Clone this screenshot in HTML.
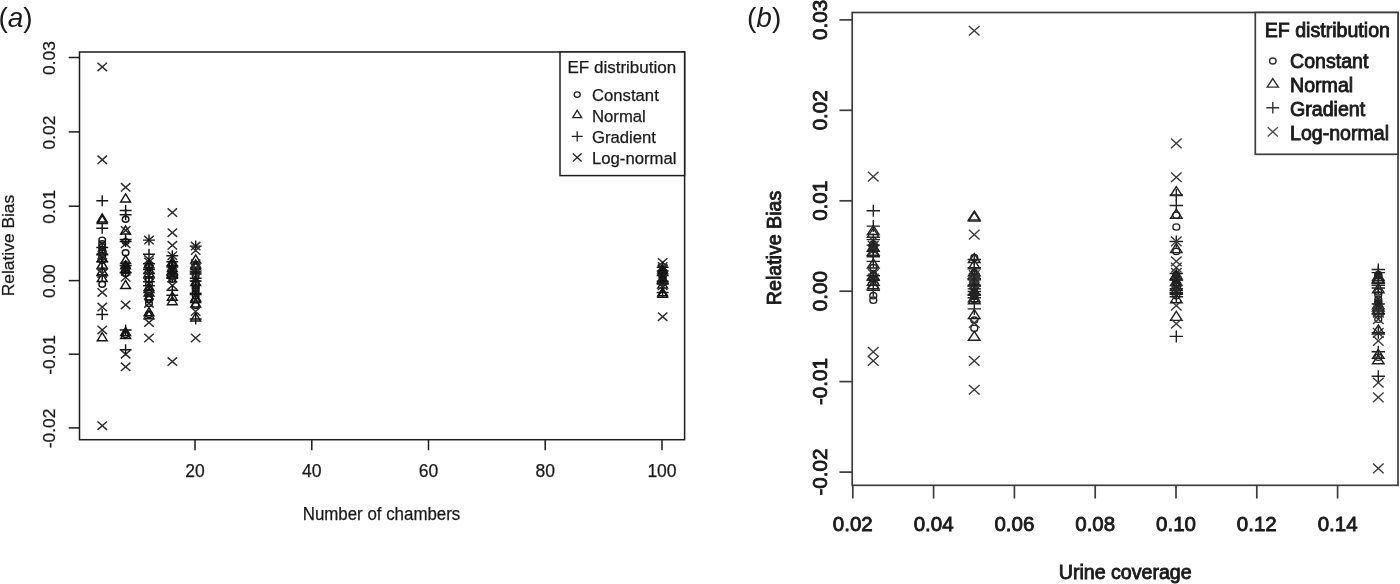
<!DOCTYPE html>
<html lang="en"><head><meta charset="utf-8"><title>Relative bias figure</title>
<style>html,body{margin:0;padding:0;background:#fff}body{width:1400px;height:584px;overflow:hidden}</style></head>
<body>
<svg width="1400" height="584" viewBox="0 0 1400 584" style="display:block;filter:blur(0.55px)">
<rect width="1400" height="584" fill="#fff"/>
<g font-family="Liberation Sans, sans-serif" fill="#1a1a1a">
<text x="-1.6" y="27.2" font-size="28"><tspan>(</tspan><tspan font-style="italic">a</tspan><tspan>)</tspan></text>
<text x="747" y="27" font-size="28"><tspan>(</tspan><tspan font-style="italic">b</tspan><tspan>)</tspan></text>
</g>
<g fill="none" stroke="#1c1c1c" stroke-width="1.5">
<rect x="79.5" y="52.0" width="605.1" height="387.7"/>
<path d="M195.0 439.7V450.2"/>
<path d="M311.8 439.7V450.2"/>
<path d="M428.5 439.7V450.2"/>
<path d="M545.2 439.7V450.2"/>
<path d="M662.0 439.7V450.2"/>
<path d="M79.5 57.5H68.7"/>
<path d="M79.5 131.9H68.7"/>
<path d="M79.5 206.2H68.7"/>
<path d="M79.5 280.6H68.7"/>
<path d="M79.5 354.2H68.7"/>
<path d="M79.5 427.9H68.7"/>
<rect x="560" y="52.0" width="124.6" height="123.6" fill="#fff"/>
</g>
<g font-family="Liberation Sans, sans-serif" font-size="17.0" fill="#1a1a1a" stroke="#1a1a1a" stroke-width="0.25" text-anchor="middle">
<text x="195.0" y="477.4" font-size="17.5">20</text>
<text x="311.8" y="477.4" font-size="17.5">40</text>
<text x="428.5" y="477.4" font-size="17.5">60</text>
<text x="545.2" y="477.4" font-size="17.5">80</text>
<text x="662.0" y="477.4" font-size="17.5">100</text>
<text transform="translate(55.3 58.1) rotate(-90)" font-size="17.4">0.03</text>
<text transform="translate(55.3 132.5) rotate(-90)" font-size="17.4">0.02</text>
<text transform="translate(55.3 206.8) rotate(-90)" font-size="17.4">0.01</text>
<text transform="translate(55.3 281.2) rotate(-90)" font-size="17.4">0.00</text>
<text transform="translate(55.3 354.9) rotate(-90)" font-size="17.4">-0.01</text>
<text transform="translate(55.3 428.5) rotate(-90)" font-size="17.4">-0.02</text>
<text x="381.5" y="519.5" textLength="157.5" lengthAdjust="spacingAndGlyphs" font-size="17.6">Number of chambers</text>
<text transform="translate(14.3 245.5) rotate(-90)" font-size="17.4">Relative Bias</text>
</g>
<g font-family="Liberation Sans, sans-serif" font-size="17.0" fill="#1a1a1a" stroke="#1a1a1a" stroke-width="0.25">
<text x="567.5" y="72.9">EF distribution</text>
<text x="592" y="101.1" font-size="16.7">Constant</text>
<ellipse cx="577.2" cy="94.6" rx="3.04" ry="2.76" fill="none" stroke="#222" stroke-width="1.3"/>
<text x="592" y="122.0" font-size="16.7">Normal</text>
<path d="M577.2 110.3L581.7 117.7L572.7 117.7Z" fill="none" stroke="#222" stroke-width="1.3"/>
<text x="592" y="142.9" font-size="16.7">Gradient</text>
<path d="M571.7 136.3H582.7M577.2 131.2V141.4" fill="none" stroke="#222" stroke-width="1.3"/>
<text x="592" y="163.8" font-size="16.7">Log-normal</text>
<path d="M572.8 153.6L581.6 161.4M572.8 161.4L581.6 153.6" fill="none" stroke="#222" stroke-width="1.3"/>
</g>
<g>
<path d="M97.5 62.7L107.0 71.1M97.5 71.1L107.0 62.7" fill="none" stroke="#2c2c2c" stroke-width="1.45"/>
<path d="M97.5 155.6L107.0 164.0M97.5 164.0L107.0 155.6" fill="none" stroke="#2c2c2c" stroke-width="1.45"/>
<path d="M96.3 200.7H108.2M102.2 195.2V206.2" fill="none" stroke="#151515" stroke-width="1.45"/>
<path d="M102.2 213.9L107.2 222.0L97.3 222.0Z" fill="none" stroke="#151515" stroke-width="1.45"/>
<path d="M102.2 215.4L107.2 223.5L97.3 223.5Z" fill="none" stroke="#151515" stroke-width="1.45"/>
<path d="M96.3 228.2H108.2M102.2 222.7V233.7" fill="none" stroke="#151515" stroke-width="1.45"/>
<path d="M97.5 288.2L107.0 296.6M97.5 296.6L107.0 288.2" fill="none" stroke="#2c2c2c" stroke-width="1.45"/>
<path d="M97.5 302.9L107.0 311.3M97.5 311.3L107.0 302.9" fill="none" stroke="#2c2c2c" stroke-width="1.45"/>
<path d="M96.3 314.5H108.2M102.2 309.0V320.0" fill="none" stroke="#151515" stroke-width="1.45"/>
<path d="M97.5 325.7L107.0 334.1M97.5 334.1L107.0 325.7" fill="none" stroke="#2c2c2c" stroke-width="1.45"/>
<path d="M102.2 332.7L107.2 340.7L97.3 340.7Z" fill="none" stroke="#151515" stroke-width="1.45"/>
<path d="M97.5 421.5L107.0 429.9M97.5 429.9L107.0 421.5" fill="none" stroke="#2c2c2c" stroke-width="1.45"/>
<ellipse cx="102.2" cy="240.1" rx="3.30" ry="3.00" fill="none" stroke="#151515" stroke-width="1.45"/>
<ellipse cx="102.2" cy="243.8" rx="3.30" ry="3.00" fill="none" stroke="#151515" stroke-width="1.45"/>
<ellipse cx="102.2" cy="246.8" rx="3.30" ry="3.00" fill="none" stroke="#151515" stroke-width="1.45"/>
<ellipse cx="102.2" cy="249.8" rx="3.30" ry="3.00" fill="none" stroke="#151515" stroke-width="1.45"/>
<ellipse cx="102.2" cy="252.7" rx="3.30" ry="3.00" fill="none" stroke="#151515" stroke-width="1.45"/>
<ellipse cx="102.2" cy="256.5" rx="3.30" ry="3.00" fill="none" stroke="#151515" stroke-width="1.45"/>
<ellipse cx="102.2" cy="260.2" rx="3.30" ry="3.00" fill="none" stroke="#151515" stroke-width="1.45"/>
<ellipse cx="102.2" cy="284.3" rx="3.30" ry="3.00" fill="none" stroke="#151515" stroke-width="1.45"/>
<path d="M102.2 246.7L107.2 254.7L97.3 254.7Z" fill="none" stroke="#151515" stroke-width="1.45"/>
<path d="M102.2 253.3L107.2 261.4L97.3 261.4Z" fill="none" stroke="#151515" stroke-width="1.45"/>
<path d="M102.2 260.0L107.2 268.1L97.3 268.1Z" fill="none" stroke="#151515" stroke-width="1.45"/>
<path d="M102.2 266.7L107.2 274.8L97.3 274.8Z" fill="none" stroke="#151515" stroke-width="1.45"/>
<path d="M102.2 273.4L107.2 281.5L97.3 281.5Z" fill="none" stroke="#151515" stroke-width="1.45"/>
<path d="M96.3 247.5H108.2M102.2 242.0V253.0" fill="none" stroke="#151515" stroke-width="1.45"/>
<path d="M96.3 254.2H108.2M102.2 248.7V259.7" fill="none" stroke="#151515" stroke-width="1.45"/>
<path d="M96.3 261.7H108.2M102.2 256.2V267.2" fill="none" stroke="#151515" stroke-width="1.45"/>
<path d="M96.3 269.1H108.2M102.2 263.6V274.6" fill="none" stroke="#151515" stroke-width="1.45"/>
<path d="M96.3 275.8H108.2M102.2 270.3V281.3" fill="none" stroke="#151515" stroke-width="1.45"/>
<path d="M97.5 250.8L107.0 259.2M97.5 259.2L107.0 250.8" fill="none" stroke="#2c2c2c" stroke-width="1.45"/>
<path d="M97.5 269.4L107.0 277.8M97.5 277.8L107.0 269.4" fill="none" stroke="#2c2c2c" stroke-width="1.45"/>
<path d="M120.9 183.1L130.4 191.5M120.9 191.5L130.4 183.1" fill="none" stroke="#2c2c2c" stroke-width="1.45"/>
<path d="M120.9 226.2L130.4 234.6M120.9 234.6L130.4 226.2" fill="none" stroke="#2c2c2c" stroke-width="1.45"/>
<path d="M120.9 239.6L130.4 248.0M120.9 248.0L130.4 239.6" fill="none" stroke="#2c2c2c" stroke-width="1.45"/>
<path d="M120.9 273.1L130.4 281.5M120.9 281.5L130.4 273.1" fill="none" stroke="#2c2c2c" stroke-width="1.45"/>
<path d="M120.9 300.7L130.4 309.1M120.9 309.1L130.4 300.7" fill="none" stroke="#2c2c2c" stroke-width="1.45"/>
<path d="M120.9 350.1L130.4 358.4M120.9 358.4L130.4 350.1" fill="none" stroke="#2c2c2c" stroke-width="1.45"/>
<path d="M120.9 362.6L130.4 371.0M120.9 371.0L130.4 362.6" fill="none" stroke="#2c2c2c" stroke-width="1.45"/>
<path d="M120.9 267.1L130.4 275.5M120.9 275.5L130.4 267.1" fill="none" stroke="#2c2c2c" stroke-width="1.45"/>
<path d="M125.6 193.9L130.5 201.9L120.7 201.9Z" fill="none" stroke="#151515" stroke-width="1.45"/>
<path d="M125.6 225.8L130.5 233.9L120.7 233.9Z" fill="none" stroke="#151515" stroke-width="1.45"/>
<path d="M125.6 255.6L130.5 263.6L120.7 263.6Z" fill="none" stroke="#151515" stroke-width="1.45"/>
<path d="M125.6 280.4L130.5 288.5L120.7 288.5Z" fill="none" stroke="#151515" stroke-width="1.45"/>
<path d="M125.6 327.5L130.5 335.6L120.7 335.6Z" fill="none" stroke="#151515" stroke-width="1.45"/>
<path d="M125.6 330.5L130.5 338.5L120.7 338.5Z" fill="none" stroke="#151515" stroke-width="1.45"/>
<path d="M125.6 264.5L130.5 272.5L120.7 272.5Z" fill="none" stroke="#151515" stroke-width="1.45"/>
<path d="M125.6 260.8L130.5 268.8L120.7 268.8Z" fill="none" stroke="#151515" stroke-width="1.45"/>
<path d="M119.7 210.4H131.6M125.6 204.9V215.9" fill="none" stroke="#151515" stroke-width="1.45"/>
<path d="M119.7 214.8H131.6M125.6 209.3V220.3" fill="none" stroke="#151515" stroke-width="1.45"/>
<path d="M119.7 239.4H131.6M125.6 233.9V244.9" fill="none" stroke="#151515" stroke-width="1.45"/>
<path d="M119.7 241.6H131.6M125.6 236.1V247.1" fill="none" stroke="#151515" stroke-width="1.45"/>
<path d="M119.7 265.8H131.6M125.6 260.3V271.3" fill="none" stroke="#151515" stroke-width="1.45"/>
<path d="M119.7 272.5H131.6M125.6 267.0V278.0" fill="none" stroke="#151515" stroke-width="1.45"/>
<path d="M119.7 329.9H131.6M125.6 324.4V335.4" fill="none" stroke="#151515" stroke-width="1.45"/>
<path d="M119.7 349.8H131.6M125.6 344.3V355.3" fill="none" stroke="#151515" stroke-width="1.45"/>
<ellipse cx="125.6" cy="219.3" rx="3.30" ry="3.00" fill="none" stroke="#151515" stroke-width="1.45"/>
<ellipse cx="125.6" cy="241.6" rx="3.30" ry="3.00" fill="none" stroke="#151515" stroke-width="1.45"/>
<ellipse cx="125.6" cy="252.7" rx="3.30" ry="3.00" fill="none" stroke="#151515" stroke-width="1.45"/>
<ellipse cx="125.6" cy="334.4" rx="3.30" ry="3.00" fill="none" stroke="#151515" stroke-width="1.45"/>
<ellipse cx="125.6" cy="264.6" rx="3.30" ry="3.00" fill="none" stroke="#151515" stroke-width="1.45"/>
<ellipse cx="125.6" cy="267.6" rx="3.30" ry="3.00" fill="none" stroke="#151515" stroke-width="1.45"/>
<ellipse cx="125.6" cy="270.6" rx="3.30" ry="3.00" fill="none" stroke="#151515" stroke-width="1.45"/>
<ellipse cx="125.6" cy="273.6" rx="3.30" ry="3.00" fill="none" stroke="#151515" stroke-width="1.45"/>
<path d="M144.2 235.9L153.7 244.3M144.2 244.3L153.7 235.9" fill="none" stroke="#2c2c2c" stroke-width="1.45"/>
<path d="M143.0 240.1H154.9M149.0 234.6V245.6" fill="none" stroke="#151515" stroke-width="1.45"/>
<path d="M143.0 254.2H154.9M149.0 248.7V259.7" fill="none" stroke="#151515" stroke-width="1.45"/>
<path d="M144.2 299.2L153.7 307.6M144.2 307.6L153.7 299.2" fill="none" stroke="#2c2c2c" stroke-width="1.45"/>
<ellipse cx="149.0" cy="303.4" rx="3.30" ry="3.00" fill="none" stroke="#151515" stroke-width="1.45"/>
<path d="M149.0 307.7L153.9 315.7L144.1 315.7Z" fill="none" stroke="#151515" stroke-width="1.45"/>
<path d="M149.0 310.6L153.9 318.7L144.1 318.7Z" fill="none" stroke="#151515" stroke-width="1.45"/>
<ellipse cx="149.0" cy="314.5" rx="3.30" ry="3.00" fill="none" stroke="#151515" stroke-width="1.45"/>
<path d="M144.2 318.4L153.7 326.8M144.2 326.8L153.7 318.4" fill="none" stroke="#2c2c2c" stroke-width="1.45"/>
<path d="M144.2 333.8L153.7 342.2M144.2 342.2L153.7 333.8" fill="none" stroke="#2c2c2c" stroke-width="1.45"/>
<path d="M144.2 255.4L153.7 263.8M144.2 263.8L153.7 255.4" fill="none" stroke="#2c2c2c" stroke-width="1.45"/>
<path d="M144.2 257.8L153.7 266.2M144.2 266.2L153.7 257.8" fill="none" stroke="#2c2c2c" stroke-width="1.45"/>
<path d="M143.0 263.8H154.9M149.0 258.3V269.3" fill="none" stroke="#151515" stroke-width="1.45"/>
<path d="M149.0 259.7L153.9 267.7L144.1 267.7Z" fill="none" stroke="#151515" stroke-width="1.45"/>
<ellipse cx="149.0" cy="267.6" rx="3.30" ry="3.00" fill="none" stroke="#151515" stroke-width="1.45"/>
<path d="M143.0 269.4H154.9M149.0 263.9V274.9" fill="none" stroke="#151515" stroke-width="1.45"/>
<path d="M149.0 265.3L153.9 273.4L144.1 273.4Z" fill="none" stroke="#151515" stroke-width="1.45"/>
<path d="M143.0 273.1H154.9M149.0 267.6V278.6" fill="none" stroke="#151515" stroke-width="1.45"/>
<path d="M149.0 268.7L153.9 276.8L144.1 276.8Z" fill="none" stroke="#151515" stroke-width="1.45"/>
<path d="M144.2 271.7L153.7 280.1M144.2 280.1L153.7 271.7" fill="none" stroke="#2c2c2c" stroke-width="1.45"/>
<path d="M143.0 277.9H154.9M149.0 272.4V283.4" fill="none" stroke="#151515" stroke-width="1.45"/>
<ellipse cx="149.0" cy="279.6" rx="3.30" ry="3.00" fill="none" stroke="#151515" stroke-width="1.45"/>
<path d="M143.0 281.8H154.9M149.0 276.3V287.3" fill="none" stroke="#151515" stroke-width="1.45"/>
<ellipse cx="149.0" cy="284.1" rx="3.30" ry="3.00" fill="none" stroke="#151515" stroke-width="1.45"/>
<path d="M143.0 285.8H154.9M149.0 280.3V291.3" fill="none" stroke="#151515" stroke-width="1.45"/>
<path d="M149.0 282.4L153.9 290.5L144.1 290.5Z" fill="none" stroke="#151515" stroke-width="1.45"/>
<path d="M149.0 284.3L153.9 292.4L144.1 292.4Z" fill="none" stroke="#151515" stroke-width="1.45"/>
<ellipse cx="149.0" cy="292.1" rx="3.30" ry="3.00" fill="none" stroke="#151515" stroke-width="1.45"/>
<path d="M149.0 287.9L153.9 295.9L144.1 295.9Z" fill="none" stroke="#151515" stroke-width="1.45"/>
<path d="M144.2 290.8L153.7 299.2M144.2 299.2L153.7 290.8" fill="none" stroke="#2c2c2c" stroke-width="1.45"/>
<ellipse cx="149.0" cy="297.0" rx="3.30" ry="3.00" fill="none" stroke="#151515" stroke-width="1.45"/>
<ellipse cx="149.0" cy="299.4" rx="3.30" ry="3.00" fill="none" stroke="#151515" stroke-width="1.45"/>
<path d="M167.6 208.4L177.1 216.8M167.6 216.8L177.1 208.4" fill="none" stroke="#2c2c2c" stroke-width="1.45"/>
<path d="M167.6 228.5L177.1 236.9M167.6 236.9L177.1 228.5" fill="none" stroke="#2c2c2c" stroke-width="1.45"/>
<path d="M167.6 241.1L177.1 249.5M167.6 249.5L177.1 241.1" fill="none" stroke="#2c2c2c" stroke-width="1.45"/>
<path d="M167.6 251.5L177.1 259.9M167.6 259.9L177.1 251.5" fill="none" stroke="#2c2c2c" stroke-width="1.45"/>
<path d="M166.4 255.7H178.2M172.3 250.2V261.2" fill="none" stroke="#151515" stroke-width="1.45"/>
<path d="M166.4 261.7H178.2M172.3 256.2V267.2" fill="none" stroke="#151515" stroke-width="1.45"/>
<path d="M167.6 281.2L177.1 289.6M167.6 289.6L177.1 281.2" fill="none" stroke="#2c2c2c" stroke-width="1.45"/>
<path d="M166.4 290.2H178.2M172.3 284.7V295.7" fill="none" stroke="#151515" stroke-width="1.45"/>
<path d="M166.4 295.3H178.2M172.3 289.8V300.8" fill="none" stroke="#151515" stroke-width="1.45"/>
<path d="M172.3 292.2L177.2 300.2L167.4 300.2Z" fill="none" stroke="#151515" stroke-width="1.45"/>
<path d="M172.3 296.6L177.2 304.7L167.4 304.7Z" fill="none" stroke="#151515" stroke-width="1.45"/>
<path d="M167.6 357.4L177.1 365.8M167.6 365.8L177.1 357.4" fill="none" stroke="#2c2c2c" stroke-width="1.45"/>
<path d="M172.3 257.5L177.2 265.6L167.4 265.6Z" fill="none" stroke="#151515" stroke-width="1.45"/>
<ellipse cx="172.3" cy="263.7" rx="3.30" ry="3.00" fill="none" stroke="#151515" stroke-width="1.45"/>
<ellipse cx="172.3" cy="264.5" rx="3.30" ry="3.00" fill="none" stroke="#151515" stroke-width="1.45"/>
<ellipse cx="172.3" cy="265.6" rx="3.30" ry="3.00" fill="none" stroke="#151515" stroke-width="1.45"/>
<path d="M166.4 266.1H178.2M172.3 260.6V271.6" fill="none" stroke="#151515" stroke-width="1.45"/>
<path d="M166.4 266.9H178.2M172.3 261.4V272.4" fill="none" stroke="#151515" stroke-width="1.45"/>
<ellipse cx="172.3" cy="268.2" rx="3.30" ry="3.00" fill="none" stroke="#151515" stroke-width="1.45"/>
<path d="M172.3 263.4L177.2 271.5L167.4 271.5Z" fill="none" stroke="#151515" stroke-width="1.45"/>
<ellipse cx="172.3" cy="269.4" rx="3.30" ry="3.00" fill="none" stroke="#151515" stroke-width="1.45"/>
<ellipse cx="172.3" cy="270.7" rx="3.30" ry="3.00" fill="none" stroke="#151515" stroke-width="1.45"/>
<path d="M172.3 265.8L177.2 273.9L167.4 273.9Z" fill="none" stroke="#151515" stroke-width="1.45"/>
<path d="M172.3 267.2L177.2 275.2L167.4 275.2Z" fill="none" stroke="#151515" stroke-width="1.45"/>
<path d="M167.6 268.6L177.1 277.0M167.6 277.0L177.1 268.6" fill="none" stroke="#2c2c2c" stroke-width="1.45"/>
<path d="M172.3 268.8L177.2 276.8L167.4 276.8Z" fill="none" stroke="#151515" stroke-width="1.45"/>
<path d="M166.4 275.0H178.2M172.3 269.5V280.5" fill="none" stroke="#151515" stroke-width="1.45"/>
<path d="M172.3 270.2L177.2 278.2L167.4 278.2Z" fill="none" stroke="#151515" stroke-width="1.45"/>
<ellipse cx="172.3" cy="276.6" rx="3.30" ry="3.00" fill="none" stroke="#151515" stroke-width="1.45"/>
<path d="M166.4 277.6H178.2M172.3 272.1V283.1" fill="none" stroke="#151515" stroke-width="1.45"/>
<path d="M167.6 274.0L177.1 282.4M167.6 282.4L177.1 274.0" fill="none" stroke="#2c2c2c" stroke-width="1.45"/>
<ellipse cx="172.3" cy="279.3" rx="3.30" ry="3.00" fill="none" stroke="#151515" stroke-width="1.45"/>
<path d="M190.9 241.9L200.4 250.3M190.9 250.3L200.4 241.9" fill="none" stroke="#2c2c2c" stroke-width="1.45"/>
<path d="M189.7 246.1H201.6M195.7 240.6V251.6" fill="none" stroke="#151515" stroke-width="1.45"/>
<path d="M190.9 246.3L200.4 254.7M190.9 254.7L200.4 246.3" fill="none" stroke="#2c2c2c" stroke-width="1.45"/>
<path d="M195.7 254.8L200.6 262.9L190.8 262.9Z" fill="none" stroke="#151515" stroke-width="1.45"/>
<ellipse cx="195.7" cy="305.6" rx="3.30" ry="3.00" fill="none" stroke="#151515" stroke-width="1.45"/>
<path d="M195.7 298.8L200.6 306.9L190.8 306.9Z" fill="none" stroke="#151515" stroke-width="1.45"/>
<path d="M190.9 307.3L200.4 315.7M190.9 315.7L200.4 307.3" fill="none" stroke="#2c2c2c" stroke-width="1.45"/>
<path d="M189.7 318.9H201.6M195.7 313.4V324.4" fill="none" stroke="#151515" stroke-width="1.45"/>
<path d="M195.7 312.8L200.6 320.9L190.8 320.9Z" fill="none" stroke="#151515" stroke-width="1.45"/>
<path d="M190.9 333.8L200.4 342.2M190.9 342.2L200.4 333.8" fill="none" stroke="#2c2c2c" stroke-width="1.45"/>
<path d="M190.9 259.5L200.4 267.9M190.9 267.9L200.4 259.5" fill="none" stroke="#2c2c2c" stroke-width="1.45"/>
<path d="M195.7 260.0L200.6 268.1L190.8 268.1Z" fill="none" stroke="#151515" stroke-width="1.45"/>
<path d="M195.7 261.7L200.6 269.8L190.8 269.8Z" fill="none" stroke="#151515" stroke-width="1.45"/>
<path d="M190.9 263.9L200.4 272.3M190.9 272.3L200.4 263.9" fill="none" stroke="#2c2c2c" stroke-width="1.45"/>
<path d="M190.9 265.7L200.4 274.1M190.9 274.1L200.4 265.7" fill="none" stroke="#2c2c2c" stroke-width="1.45"/>
<path d="M189.7 272.0H201.6M195.7 266.5V277.5" fill="none" stroke="#151515" stroke-width="1.45"/>
<path d="M189.7 273.9H201.6M195.7 268.4V279.4" fill="none" stroke="#151515" stroke-width="1.45"/>
<ellipse cx="195.7" cy="275.8" rx="3.30" ry="3.00" fill="none" stroke="#151515" stroke-width="1.45"/>
<path d="M190.9 273.3L200.4 281.7M190.9 281.7L200.4 273.3" fill="none" stroke="#2c2c2c" stroke-width="1.45"/>
<path d="M189.7 278.3H201.6M195.7 272.8V283.8" fill="none" stroke="#151515" stroke-width="1.45"/>
<path d="M189.7 281.0H201.6M195.7 275.5V286.5" fill="none" stroke="#151515" stroke-width="1.45"/>
<path d="M195.7 277.4L200.6 285.5L190.8 285.5Z" fill="none" stroke="#151515" stroke-width="1.45"/>
<ellipse cx="195.7" cy="284.3" rx="3.30" ry="3.00" fill="none" stroke="#151515" stroke-width="1.45"/>
<ellipse cx="195.7" cy="285.6" rx="3.30" ry="3.00" fill="none" stroke="#151515" stroke-width="1.45"/>
<ellipse cx="195.7" cy="287.6" rx="3.30" ry="3.00" fill="none" stroke="#151515" stroke-width="1.45"/>
<ellipse cx="195.7" cy="288.9" rx="3.30" ry="3.00" fill="none" stroke="#151515" stroke-width="1.45"/>
<ellipse cx="195.7" cy="291.6" rx="3.30" ry="3.00" fill="none" stroke="#151515" stroke-width="1.45"/>
<path d="M189.7 293.2H201.6M195.7 287.7V298.7" fill="none" stroke="#151515" stroke-width="1.45"/>
<path d="M189.7 294.6H201.6M195.7 289.1V300.1" fill="none" stroke="#151515" stroke-width="1.45"/>
<ellipse cx="195.7" cy="296.0" rx="3.30" ry="3.00" fill="none" stroke="#151515" stroke-width="1.45"/>
<path d="M195.7 293.1L200.6 301.1L190.8 301.1Z" fill="none" stroke="#151515" stroke-width="1.45"/>
<path d="M195.7 294.4L200.6 302.4L190.8 302.4Z" fill="none" stroke="#151515" stroke-width="1.45"/>
<path d="M657.9 258.2L667.4 266.6M657.9 266.6L667.4 258.2" fill="none" stroke="#2c2c2c" stroke-width="1.45"/>
<path d="M656.7 292.4H668.6M662.6 286.9V297.9" fill="none" stroke="#151515" stroke-width="1.45"/>
<path d="M662.6 289.2L667.5 297.3L657.8 297.3Z" fill="none" stroke="#151515" stroke-width="1.45"/>
<path d="M662.6 287.8L667.5 295.8L657.8 295.8Z" fill="none" stroke="#151515" stroke-width="1.45"/>
<path d="M657.9 312.5L667.4 320.9M657.9 320.9L667.4 312.5" fill="none" stroke="#2c2c2c" stroke-width="1.45"/>
<path d="M657.9 262.3L667.4 270.7M657.9 270.7L667.4 262.3" fill="none" stroke="#2c2c2c" stroke-width="1.45"/>
<path d="M656.7 267.3H668.6M662.6 261.8V272.8" fill="none" stroke="#151515" stroke-width="1.45"/>
<path d="M657.9 264.4L667.4 272.8M657.9 272.8L667.4 264.4" fill="none" stroke="#2c2c2c" stroke-width="1.45"/>
<path d="M657.9 265.0L667.4 273.4M657.9 273.4L667.4 265.0" fill="none" stroke="#2c2c2c" stroke-width="1.45"/>
<path d="M662.6 265.0L667.5 273.1L657.8 273.1Z" fill="none" stroke="#151515" stroke-width="1.45"/>
<path d="M656.7 270.9H668.6M662.6 265.4V276.4" fill="none" stroke="#151515" stroke-width="1.45"/>
<ellipse cx="662.6" cy="272.1" rx="3.30" ry="3.00" fill="none" stroke="#151515" stroke-width="1.45"/>
<path d="M662.6 267.6L667.5 275.6L657.8 275.6Z" fill="none" stroke="#151515" stroke-width="1.45"/>
<ellipse cx="662.6" cy="273.6" rx="3.30" ry="3.00" fill="none" stroke="#151515" stroke-width="1.45"/>
<path d="M656.7 275.1H668.6M662.6 269.6V280.6" fill="none" stroke="#151515" stroke-width="1.45"/>
<ellipse cx="662.6" cy="275.4" rx="3.30" ry="3.00" fill="none" stroke="#151515" stroke-width="1.45"/>
<ellipse cx="662.6" cy="276.8" rx="3.30" ry="3.00" fill="none" stroke="#151515" stroke-width="1.45"/>
<ellipse cx="662.6" cy="277.8" rx="3.30" ry="3.00" fill="none" stroke="#151515" stroke-width="1.45"/>
<path d="M657.9 274.0L667.4 282.4M657.9 282.4L667.4 274.0" fill="none" stroke="#2c2c2c" stroke-width="1.45"/>
<path d="M662.6 273.8L667.5 281.8L657.8 281.8Z" fill="none" stroke="#151515" stroke-width="1.45"/>
<path d="M662.6 274.8L667.5 282.8L657.8 282.8Z" fill="none" stroke="#151515" stroke-width="1.45"/>
<path d="M656.7 281.3H668.6M662.6 275.8V286.8" fill="none" stroke="#151515" stroke-width="1.45"/>
<ellipse cx="662.6" cy="282.7" rx="3.30" ry="3.00" fill="none" stroke="#151515" stroke-width="1.45"/>
<path d="M656.7 283.4H668.6M662.6 277.9V288.9" fill="none" stroke="#151515" stroke-width="1.45"/>
<path d="M656.7 284.0H668.6M662.6 278.5V289.5" fill="none" stroke="#151515" stroke-width="1.45"/>
<path d="M662.6 280.1L667.5 288.1L657.8 288.1Z" fill="none" stroke="#151515" stroke-width="1.45"/>
<path d="M657.9 281.6L667.4 290.0M657.9 290.0L667.4 281.6" fill="none" stroke="#2c2c2c" stroke-width="1.45"/>
</g>
<g fill="none" stroke="#3c3c3c" stroke-width="1.7">
<rect x="852.2" y="12.5" width="545.8" height="472.8"/>
<path d="M852.8 485.3V498.5"/>
<path d="M933.6 485.3V498.5"/>
<path d="M1014.4 485.3V498.5"/>
<path d="M1095.2 485.3V498.5"/>
<path d="M1176.0 485.3V498.5"/>
<path d="M1256.8 485.3V498.5"/>
<path d="M1337.6 485.3V498.5"/>
<path d="M852.2 19.9H839.4000000000001"/>
<path d="M852.2 110.3H839.4000000000001"/>
<path d="M852.2 200.8H839.4000000000001"/>
<path d="M852.2 291.2H839.4000000000001"/>
<path d="M852.2 381.6H839.4000000000001"/>
<path d="M852.2 472.1H839.4000000000001"/>
<rect x="1255.3" y="12.5" width="142.7" height="141.8" fill="#fff"/>
</g>
<g font-family="Liberation Sans, sans-serif" font-size="19.6" fill="#1a1a1a" stroke="#1a1a1a" stroke-width="0.85" text-anchor="middle">
<text x="852.8" y="531.4" font-size="20.5">0.02</text>
<text x="933.6" y="531.4" font-size="20.5">0.04</text>
<text x="1014.4" y="531.4" font-size="20.5">0.06</text>
<text x="1095.2" y="531.4" font-size="20.5">0.08</text>
<text x="1176.0" y="531.4" font-size="20.5">0.10</text>
<text x="1256.8" y="531.4" font-size="20.5">0.12</text>
<text x="1337.6" y="531.4" font-size="20.5">0.14</text>
<text transform="translate(826.9 19.9) rotate(-90)" font-size="20.6">0.03</text>
<text transform="translate(826.9 110.3) rotate(-90)" font-size="20.6">0.02</text>
<text transform="translate(826.9 200.8) rotate(-90)" font-size="20.6">0.01</text>
<text transform="translate(826.9 291.2) rotate(-90)" font-size="20.6">0.00</text>
<text transform="translate(826.9 381.6) rotate(-90)" font-size="20.6">-0.01</text>
<text transform="translate(826.9 472.1) rotate(-90)" font-size="20.6">-0.02</text>
<text x="1125.2" y="578.6">Urine coverage</text>
<text transform="translate(781.3 248) rotate(-90)">Relative Bias</text>
</g>
<g font-family="Liberation Sans, sans-serif" font-size="19.6" fill="#1a1a1a" stroke="#1a1a1a" stroke-width="0.85">
<text x="1264.7" y="37.3">EF distribution</text>
<text x="1290" y="68.2">Constant</text>
<ellipse cx="1272.8" cy="61.0" rx="3.28" ry="2.99" fill="none" stroke="#333" stroke-width="1.4"/>
<text x="1290" y="92.1">Normal</text>
<path d="M1272.8 78.6L1278.4 87.1L1267.2 87.1Z" fill="none" stroke="#333" stroke-width="1.4"/>
<text x="1290" y="115.9">Gradient</text>
<path d="M1266.4 107.7H1279.2M1272.8 102.0V113.4" fill="none" stroke="#333" stroke-width="1.4"/>
<text x="1290" y="139.8">Log-normal</text>
<path d="M1267.7 127.2L1277.9 136.5M1267.7 136.5L1277.9 127.2" fill="none" stroke="#4a4a4a" stroke-width="1.4"/>
</g>
<g>
<path d="M867.9 171.8L878.6 181.5M867.9 181.5L878.6 171.8" fill="none" stroke="#3a3a3a" stroke-width="1.4"/>
<path d="M866.6 210.7H880.0M873.3 204.7V216.7" fill="none" stroke="#222" stroke-width="1.4"/>
<path d="M866.6 226.1H880.0M873.3 220.1V232.1" fill="none" stroke="#222" stroke-width="1.4"/>
<path d="M873.3 225.5L879.1 234.5L867.4 234.5Z" fill="none" stroke="#222" stroke-width="1.4"/>
<path d="M873.3 228.2L879.1 237.2L867.4 237.2Z" fill="none" stroke="#222" stroke-width="1.4"/>
<path d="M866.6 239.6H880.0M873.3 233.6V245.6" fill="none" stroke="#222" stroke-width="1.4"/>
<path d="M867.9 235.7L878.6 245.4M867.9 245.4L878.6 235.7" fill="none" stroke="#3a3a3a" stroke-width="1.4"/>
<ellipse cx="873.3" cy="244.2" rx="3.45" ry="3.15" fill="none" stroke="#222" stroke-width="1.4"/>
<ellipse cx="873.3" cy="246.9" rx="3.45" ry="3.15" fill="none" stroke="#222" stroke-width="1.4"/>
<ellipse cx="873.3" cy="249.6" rx="3.45" ry="3.15" fill="none" stroke="#222" stroke-width="1.4"/>
<path d="M867.9 241.1L878.6 250.8M867.9 250.8L878.6 241.1" fill="none" stroke="#3a3a3a" stroke-width="1.4"/>
<path d="M867.9 245.6L878.6 255.3M867.9 255.3L878.6 245.6" fill="none" stroke="#3a3a3a" stroke-width="1.4"/>
<path d="M873.3 241.8L879.1 250.8L867.4 250.8Z" fill="none" stroke="#222" stroke-width="1.4"/>
<path d="M866.6 245.1H880.0M873.3 239.1V251.1" fill="none" stroke="#222" stroke-width="1.4"/>
<path d="M866.6 251.4H880.0M873.3 245.4V257.4" fill="none" stroke="#222" stroke-width="1.4"/>
<path d="M873.3 246.3L879.1 255.3L867.4 255.3Z" fill="none" stroke="#222" stroke-width="1.4"/>
<path d="M866.6 256.8H880.0M873.3 250.8V262.8" fill="none" stroke="#222" stroke-width="1.4"/>
<path d="M866.6 261.4H880.0M873.3 255.4V267.4" fill="none" stroke="#222" stroke-width="1.4"/>
<path d="M873.3 259.0L879.1 268.0L867.4 268.0Z" fill="none" stroke="#222" stroke-width="1.4"/>
<ellipse cx="873.3" cy="267.7" rx="3.45" ry="3.15" fill="none" stroke="#222" stroke-width="1.4"/>
<path d="M867.9 269.2L878.6 278.9M867.9 278.9L878.6 269.2" fill="none" stroke="#3a3a3a" stroke-width="1.4"/>
<path d="M867.9 273.7L878.6 283.4M867.9 283.4L878.6 273.7" fill="none" stroke="#3a3a3a" stroke-width="1.4"/>
<path d="M867.9 278.2L878.6 287.9M867.9 287.9L878.6 278.2" fill="none" stroke="#3a3a3a" stroke-width="1.4"/>
<ellipse cx="873.3" cy="274.9" rx="3.45" ry="3.15" fill="none" stroke="#222" stroke-width="1.4"/>
<ellipse cx="873.3" cy="279.4" rx="3.45" ry="3.15" fill="none" stroke="#222" stroke-width="1.4"/>
<path d="M873.3 270.7L879.1 279.7L867.4 279.7Z" fill="none" stroke="#222" stroke-width="1.4"/>
<path d="M873.3 276.2L879.1 285.2L867.4 285.2Z" fill="none" stroke="#222" stroke-width="1.4"/>
<path d="M866.6 280.3H880.0M873.3 274.3V286.3" fill="none" stroke="#222" stroke-width="1.4"/>
<path d="M866.6 275.8H880.0M873.3 269.8V281.8" fill="none" stroke="#222" stroke-width="1.4"/>
<path d="M873.3 279.8L879.1 288.8L867.4 288.8Z" fill="none" stroke="#222" stroke-width="1.4"/>
<path d="M866.6 290.3H880.0M873.3 284.3V296.3" fill="none" stroke="#222" stroke-width="1.4"/>
<ellipse cx="873.3" cy="295.7" rx="3.45" ry="3.15" fill="none" stroke="#222" stroke-width="1.4"/>
<ellipse cx="873.3" cy="300.2" rx="3.45" ry="3.15" fill="none" stroke="#222" stroke-width="1.4"/>
<path d="M867.9 347.0L878.6 356.7M867.9 356.7L878.6 347.0" fill="none" stroke="#3a3a3a" stroke-width="1.4"/>
<path d="M867.9 356.0L878.6 365.7M867.9 365.7L878.6 356.0" fill="none" stroke="#3a3a3a" stroke-width="1.4"/>
<path d="M968.9 25.9L979.6 35.6M968.9 35.6L979.6 25.9" fill="none" stroke="#3a3a3a" stroke-width="1.4"/>
<path d="M974.3 211.0L980.1 220.0L968.4 220.0Z" fill="none" stroke="#222" stroke-width="1.4"/>
<path d="M974.3 212.1L980.1 221.1L968.4 221.1Z" fill="none" stroke="#222" stroke-width="1.4"/>
<path d="M968.9 229.8L979.6 239.5M968.9 239.5L979.6 229.8" fill="none" stroke="#3a3a3a" stroke-width="1.4"/>
<path d="M974.3 253.5L980.1 262.5L968.4 262.5Z" fill="none" stroke="#222" stroke-width="1.4"/>
<ellipse cx="974.3" cy="257.7" rx="3.45" ry="3.15" fill="none" stroke="#222" stroke-width="1.4"/>
<path d="M967.6 259.5H981.0M974.3 253.5V265.5" fill="none" stroke="#222" stroke-width="1.4"/>
<path d="M967.6 267.7H981.0M974.3 261.7V273.7" fill="none" stroke="#222" stroke-width="1.4"/>
<path d="M974.3 259.9L980.1 268.9L968.4 268.9Z" fill="none" stroke="#222" stroke-width="1.4"/>
<path d="M967.6 308.9H981.0M974.3 302.9V314.9" fill="none" stroke="#222" stroke-width="1.4"/>
<ellipse cx="974.3" cy="320.1" rx="3.45" ry="3.15" fill="none" stroke="#222" stroke-width="1.4"/>
<ellipse cx="974.3" cy="328.3" rx="3.45" ry="3.15" fill="none" stroke="#222" stroke-width="1.4"/>
<path d="M968.9 318.0L979.6 327.7M968.9 327.7L979.6 318.0" fill="none" stroke="#3a3a3a" stroke-width="1.4"/>
<path d="M974.3 309.6L980.1 318.6L968.4 318.6Z" fill="none" stroke="#222" stroke-width="1.4"/>
<path d="M974.3 331.3L980.1 340.3L968.4 340.3Z" fill="none" stroke="#222" stroke-width="1.4"/>
<path d="M968.9 356.0L979.6 365.7M968.9 365.7L979.6 356.0" fill="none" stroke="#3a3a3a" stroke-width="1.4"/>
<path d="M968.9 384.9L979.6 394.6M968.9 394.6L979.6 384.9" fill="none" stroke="#3a3a3a" stroke-width="1.4"/>
<path d="M974.3 266.8L980.1 275.8L968.4 275.8Z" fill="none" stroke="#222" stroke-width="1.4"/>
<ellipse cx="974.3" cy="273.7" rx="3.45" ry="3.15" fill="none" stroke="#222" stroke-width="1.4"/>
<path d="M968.9 270.3L979.6 280.0M968.9 280.0L979.6 270.3" fill="none" stroke="#3a3a3a" stroke-width="1.4"/>
<path d="M974.3 269.5L980.1 278.5L968.4 278.5Z" fill="none" stroke="#222" stroke-width="1.4"/>
<ellipse cx="974.3" cy="277.1" rx="3.45" ry="3.15" fill="none" stroke="#222" stroke-width="1.4"/>
<path d="M968.9 272.9L979.6 282.6M968.9 282.6L979.6 272.9" fill="none" stroke="#3a3a3a" stroke-width="1.4"/>
<path d="M967.6 278.7H981.0M974.3 272.7V284.7" fill="none" stroke="#222" stroke-width="1.4"/>
<path d="M967.6 279.7H981.0M974.3 273.7V285.7" fill="none" stroke="#222" stroke-width="1.4"/>
<path d="M968.9 276.0L979.6 285.7M968.9 285.7L979.6 276.0" fill="none" stroke="#3a3a3a" stroke-width="1.4"/>
<path d="M968.9 277.4L979.6 287.1M968.9 287.1L979.6 277.4" fill="none" stroke="#3a3a3a" stroke-width="1.4"/>
<path d="M974.3 276.8L980.1 285.8L968.4 285.8Z" fill="none" stroke="#222" stroke-width="1.4"/>
<path d="M968.9 279.3L979.6 289.0M968.9 289.0L979.6 279.3" fill="none" stroke="#3a3a3a" stroke-width="1.4"/>
<path d="M967.6 285.2H981.0M974.3 279.2V291.2" fill="none" stroke="#222" stroke-width="1.4"/>
<path d="M967.6 286.1H981.0M974.3 280.1V292.1" fill="none" stroke="#222" stroke-width="1.4"/>
<ellipse cx="974.3" cy="287.2" rx="3.45" ry="3.15" fill="none" stroke="#222" stroke-width="1.4"/>
<ellipse cx="974.3" cy="287.9" rx="3.45" ry="3.15" fill="none" stroke="#222" stroke-width="1.4"/>
<path d="M967.6 288.9H981.0M974.3 282.9V294.9" fill="none" stroke="#222" stroke-width="1.4"/>
<path d="M968.9 285.2L979.6 294.9M968.9 294.9L979.6 285.2" fill="none" stroke="#3a3a3a" stroke-width="1.4"/>
<path d="M967.6 291.5H981.0M974.3 285.5V297.5" fill="none" stroke="#222" stroke-width="1.4"/>
<path d="M974.3 286.3L980.1 295.3L968.4 295.3Z" fill="none" stroke="#222" stroke-width="1.4"/>
<ellipse cx="974.3" cy="293.3" rx="3.45" ry="3.15" fill="none" stroke="#222" stroke-width="1.4"/>
<path d="M967.6 294.5H981.0M974.3 288.5V300.5" fill="none" stroke="#222" stroke-width="1.4"/>
<ellipse cx="974.3" cy="295.4" rx="3.45" ry="3.15" fill="none" stroke="#222" stroke-width="1.4"/>
<ellipse cx="974.3" cy="296.4" rx="3.45" ry="3.15" fill="none" stroke="#222" stroke-width="1.4"/>
<path d="M967.6 297.7H981.0M974.3 291.7V303.7" fill="none" stroke="#222" stroke-width="1.4"/>
<path d="M974.3 292.7L980.1 301.7L968.4 301.7Z" fill="none" stroke="#222" stroke-width="1.4"/>
<ellipse cx="974.3" cy="299.4" rx="3.45" ry="3.15" fill="none" stroke="#222" stroke-width="1.4"/>
<path d="M974.3 294.7L980.1 303.7L968.4 303.7Z" fill="none" stroke="#222" stroke-width="1.4"/>
<path d="M1171.0 138.5L1181.6 148.2M1171.0 148.2L1181.6 138.5" fill="none" stroke="#3a3a3a" stroke-width="1.4"/>
<path d="M1171.0 172.4L1181.6 182.1M1171.0 182.1L1181.6 172.4" fill="none" stroke="#3a3a3a" stroke-width="1.4"/>
<path d="M1176.3 186.6L1182.1 195.6L1170.5 195.6Z" fill="none" stroke="#222" stroke-width="1.4"/>
<path d="M1169.6 194.9H1183.0M1176.3 188.9V200.9" fill="none" stroke="#222" stroke-width="1.4"/>
<path d="M1169.6 205.5H1183.0M1176.3 199.5V211.5" fill="none" stroke="#222" stroke-width="1.4"/>
<path d="M1176.3 209.2L1182.1 218.2L1170.5 218.2Z" fill="none" stroke="#222" stroke-width="1.4"/>
<ellipse cx="1176.3" cy="215.2" rx="3.45" ry="3.15" fill="none" stroke="#222" stroke-width="1.4"/>
<ellipse cx="1176.3" cy="227.0" rx="3.45" ry="3.15" fill="none" stroke="#222" stroke-width="1.4"/>
<path d="M1169.6 241.5H1183.0M1176.3 235.5V247.5" fill="none" stroke="#222" stroke-width="1.4"/>
<path d="M1171.0 236.6L1181.6 246.3M1171.0 246.3L1181.6 236.6" fill="none" stroke="#3a3a3a" stroke-width="1.4"/>
<path d="M1176.3 243.6L1182.1 252.6L1170.5 252.6Z" fill="none" stroke="#222" stroke-width="1.4"/>
<ellipse cx="1176.3" cy="251.4" rx="3.45" ry="3.15" fill="none" stroke="#222" stroke-width="1.4"/>
<path d="M1171.0 256.5L1181.6 266.2M1171.0 266.2L1181.6 256.5" fill="none" stroke="#3a3a3a" stroke-width="1.4"/>
<path d="M1171.0 262.8L1181.6 272.5M1171.0 272.5L1181.6 262.8" fill="none" stroke="#3a3a3a" stroke-width="1.4"/>
<path d="M1171.0 300.8L1181.6 310.5M1171.0 310.5L1181.6 300.8" fill="none" stroke="#3a3a3a" stroke-width="1.4"/>
<path d="M1176.3 311.4L1182.1 320.4L1170.5 320.4Z" fill="none" stroke="#222" stroke-width="1.4"/>
<path d="M1171.0 318.9L1181.6 328.6M1171.0 328.6L1181.6 318.9" fill="none" stroke="#3a3a3a" stroke-width="1.4"/>
<path d="M1169.6 336.4H1183.0M1176.3 330.4V342.4" fill="none" stroke="#222" stroke-width="1.4"/>
<path d="M1171.0 268.0L1181.6 277.7M1171.0 277.7L1181.6 268.0" fill="none" stroke="#3a3a3a" stroke-width="1.4"/>
<path d="M1169.6 273.5H1183.0M1176.3 267.5V279.5" fill="none" stroke="#222" stroke-width="1.4"/>
<ellipse cx="1176.3" cy="274.7" rx="3.45" ry="3.15" fill="none" stroke="#222" stroke-width="1.4"/>
<path d="M1176.3 270.3L1182.1 279.3L1170.5 279.3Z" fill="none" stroke="#222" stroke-width="1.4"/>
<path d="M1176.3 270.7L1182.1 279.7L1170.5 279.7Z" fill="none" stroke="#222" stroke-width="1.4"/>
<ellipse cx="1176.3" cy="278.1" rx="3.45" ry="3.15" fill="none" stroke="#222" stroke-width="1.4"/>
<ellipse cx="1176.3" cy="279.5" rx="3.45" ry="3.15" fill="none" stroke="#222" stroke-width="1.4"/>
<path d="M1169.6 280.1H1183.0M1176.3 274.1V286.1" fill="none" stroke="#222" stroke-width="1.4"/>
<path d="M1171.0 276.5L1181.6 286.2M1171.0 286.2L1181.6 276.5" fill="none" stroke="#3a3a3a" stroke-width="1.4"/>
<path d="M1176.3 276.5L1182.1 285.5L1170.5 285.5Z" fill="none" stroke="#222" stroke-width="1.4"/>
<ellipse cx="1176.3" cy="283.6" rx="3.45" ry="3.15" fill="none" stroke="#222" stroke-width="1.4"/>
<ellipse cx="1176.3" cy="284.7" rx="3.45" ry="3.15" fill="none" stroke="#222" stroke-width="1.4"/>
<ellipse cx="1176.3" cy="286.2" rx="3.45" ry="3.15" fill="none" stroke="#222" stroke-width="1.4"/>
<path d="M1176.3 281.2L1182.1 290.2L1170.5 290.2Z" fill="none" stroke="#222" stroke-width="1.4"/>
<path d="M1169.6 288.7H1183.0M1176.3 282.7V294.7" fill="none" stroke="#222" stroke-width="1.4"/>
<path d="M1171.0 285.3L1181.6 295.0M1171.0 295.0L1181.6 285.3" fill="none" stroke="#3a3a3a" stroke-width="1.4"/>
<path d="M1176.3 285.4L1182.1 294.4L1170.5 294.4Z" fill="none" stroke="#222" stroke-width="1.4"/>
<path d="M1169.6 292.4H1183.0M1176.3 286.4V298.4" fill="none" stroke="#222" stroke-width="1.4"/>
<path d="M1169.6 293.2H1183.0M1176.3 287.2V299.2" fill="none" stroke="#222" stroke-width="1.4"/>
<ellipse cx="1176.3" cy="295.7" rx="3.45" ry="3.15" fill="none" stroke="#222" stroke-width="1.4"/>
<path d="M1169.6 296.8H1183.0M1176.3 290.8V302.8" fill="none" stroke="#222" stroke-width="1.4"/>
<path d="M1176.3 293.7L1182.1 302.7L1170.5 302.7Z" fill="none" stroke="#222" stroke-width="1.4"/>
<path d="M1371.6 269.5H1385.0M1378.3 263.5V275.5" fill="none" stroke="#222" stroke-width="1.4"/>
<ellipse cx="1378.3" cy="319.2" rx="3.45" ry="3.15" fill="none" stroke="#222" stroke-width="1.4"/>
<path d="M1373.0 314.4L1383.6 324.1M1373.0 324.1L1383.6 314.4" fill="none" stroke="#3a3a3a" stroke-width="1.4"/>
<path d="M1371.6 332.8H1385.0M1378.3 326.8V338.8" fill="none" stroke="#222" stroke-width="1.4"/>
<path d="M1373.0 328.0L1383.6 337.7M1373.0 337.7L1383.6 328.0" fill="none" stroke="#3a3a3a" stroke-width="1.4"/>
<path d="M1378.3 325.0L1384.1 334.0L1372.5 334.0Z" fill="none" stroke="#222" stroke-width="1.4"/>
<path d="M1373.0 336.1L1383.6 345.8M1373.0 345.8L1383.6 336.1" fill="none" stroke="#3a3a3a" stroke-width="1.4"/>
<path d="M1371.6 351.8H1385.0M1378.3 345.8V357.8" fill="none" stroke="#222" stroke-width="1.4"/>
<path d="M1378.3 349.4L1384.1 358.4L1372.5 358.4Z" fill="none" stroke="#222" stroke-width="1.4"/>
<path d="M1378.3 354.8L1384.1 363.8L1372.5 363.8Z" fill="none" stroke="#222" stroke-width="1.4"/>
<ellipse cx="1378.3" cy="357.2" rx="3.45" ry="3.15" fill="none" stroke="#222" stroke-width="1.4"/>
<path d="M1371.6 376.2H1385.0M1378.3 370.2V382.2" fill="none" stroke="#222" stroke-width="1.4"/>
<path d="M1373.0 377.7L1383.6 387.4M1373.0 387.4L1383.6 377.7" fill="none" stroke="#3a3a3a" stroke-width="1.4"/>
<path d="M1373.0 392.5L1383.6 402.2M1373.0 402.2L1383.6 392.5" fill="none" stroke="#3a3a3a" stroke-width="1.4"/>
<path d="M1373.0 463.6L1383.6 473.3M1373.0 473.3L1383.6 463.6" fill="none" stroke="#3a3a3a" stroke-width="1.4"/>
<path d="M1371.6 272.6H1385.0M1378.3 266.6V278.6" fill="none" stroke="#222" stroke-width="1.4"/>
<ellipse cx="1378.3" cy="274.7" rx="3.45" ry="3.15" fill="none" stroke="#222" stroke-width="1.4"/>
<ellipse cx="1378.3" cy="275.8" rx="3.45" ry="3.15" fill="none" stroke="#222" stroke-width="1.4"/>
<path d="M1378.3 271.4L1384.1 280.4L1372.5 280.4Z" fill="none" stroke="#222" stroke-width="1.4"/>
<path d="M1378.3 273.1L1384.1 282.1L1372.5 282.1Z" fill="none" stroke="#222" stroke-width="1.4"/>
<path d="M1378.3 274.3L1384.1 283.3L1372.5 283.3Z" fill="none" stroke="#222" stroke-width="1.4"/>
<path d="M1371.6 283.1H1385.0M1378.3 277.1V289.1" fill="none" stroke="#222" stroke-width="1.4"/>
<path d="M1371.6 285.3H1385.0M1378.3 279.3V291.3" fill="none" stroke="#222" stroke-width="1.4"/>
<path d="M1371.6 288.0H1385.0M1378.3 282.0V294.0" fill="none" stroke="#222" stroke-width="1.4"/>
<path d="M1378.3 283.7L1384.1 292.7L1372.5 292.7Z" fill="none" stroke="#222" stroke-width="1.4"/>
<ellipse cx="1378.3" cy="291.9" rx="3.45" ry="3.15" fill="none" stroke="#222" stroke-width="1.4"/>
<ellipse cx="1378.3" cy="294.8" rx="3.45" ry="3.15" fill="none" stroke="#222" stroke-width="1.4"/>
<ellipse cx="1378.3" cy="299.3" rx="3.45" ry="3.15" fill="none" stroke="#222" stroke-width="1.4"/>
<ellipse cx="1378.3" cy="301.8" rx="3.45" ry="3.15" fill="none" stroke="#222" stroke-width="1.4"/>
<ellipse cx="1378.3" cy="303.1" rx="3.45" ry="3.15" fill="none" stroke="#222" stroke-width="1.4"/>
<path d="M1371.6 303.9H1385.0M1378.3 297.9V309.9" fill="none" stroke="#222" stroke-width="1.4"/>
<path d="M1378.3 299.8L1384.1 308.8L1372.5 308.8Z" fill="none" stroke="#222" stroke-width="1.4"/>
<ellipse cx="1378.3" cy="306.8" rx="3.45" ry="3.15" fill="none" stroke="#222" stroke-width="1.4"/>
<path d="M1378.3 302.0L1384.1 311.0L1372.5 311.0Z" fill="none" stroke="#222" stroke-width="1.4"/>
<path d="M1373.0 304.0L1383.6 313.7M1373.0 313.7L1383.6 304.0" fill="none" stroke="#3a3a3a" stroke-width="1.4"/>
<path d="M1378.3 304.5L1384.1 313.5L1372.5 313.5Z" fill="none" stroke="#222" stroke-width="1.4"/>
<path d="M1373.0 306.9L1383.6 316.6M1373.0 316.6L1383.6 306.9" fill="none" stroke="#3a3a3a" stroke-width="1.4"/>
<path d="M1373.0 307.7L1383.6 317.4M1373.0 317.4L1383.6 307.7" fill="none" stroke="#3a3a3a" stroke-width="1.4"/>
<path d="M1371.6 314.0H1385.0M1378.3 308.0V320.0" fill="none" stroke="#222" stroke-width="1.4"/>
</g>
</svg>
</body></html>
